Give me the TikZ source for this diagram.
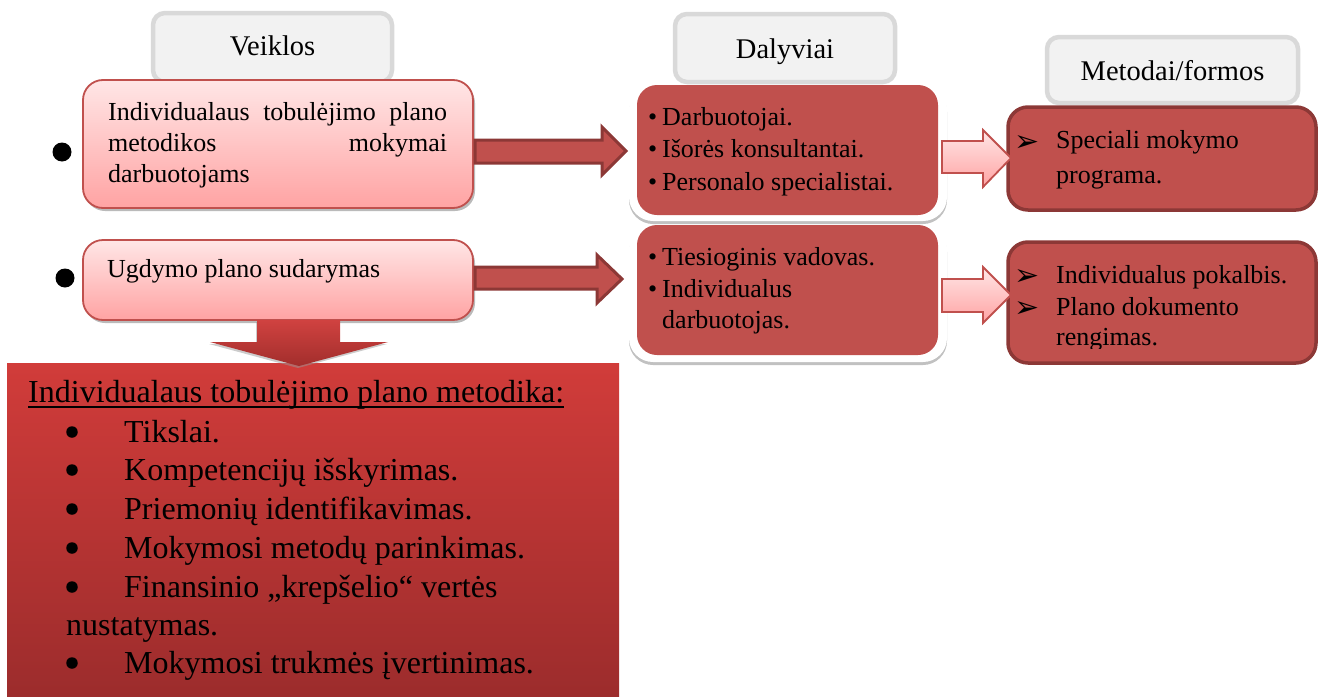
\documentclass[tikz,border=0pt]{standalone}
\usepackage{fontspec}
\setmainfont{Liberation Serif}
\newfontfamily\dejavu{DejaVu Sans}
\usetikzlibrary{shadows}
\definecolor{hdrfill}{HTML}{F2F2F2}
\definecolor{hdrborder}{HTML}{D9D9D9}
\definecolor{redfill}{HTML}{C0504D}
\definecolor{darkred}{HTML}{8C3836}
\definecolor{pinktop}{HTML}{FFE6E6}
\definecolor{pinkbot}{HTML}{FFA3A3}
\definecolor{bigtop}{HTML}{D13C3A}
\definecolor{bigbot}{HTML}{9C2C2C}
\definecolor{downtop}{HTML}{D04240}
\definecolor{downbot}{HTML}{A22E2C}
\begin{document}
\begin{tikzpicture}[x=1pt,y=-1pt,
  hdr/.style={draw=hdrborder, line width=4.5pt, fill=hdrfill, rounded corners=12pt, inner sep=0pt, outer sep=0pt},
  pinkbox/.style={draw=redfill, line width=1.8pt, top color=pinktop, bottom color=pinkbot, rounded corners=20pt, inner sep=0pt,
     drop shadow={shadow xshift=2pt, shadow yshift=-3pt, fill=black!45, opacity=0.6}},
  outerbox/.style={fill=white, rounded corners=24pt, inner sep=0pt,
     drop shadow={shadow xshift=0pt, shadow yshift=-3pt, fill=black!35, opacity=0.7}},
  redbox/.style={fill=redfill, rounded corners=20pt, inner sep=0pt},
  metbox/.style={fill=redfill, draw=darkred, line width=3.5pt, rounded corners=20pt, inner sep=0pt},
  bigbox/.style={top color=bigtop, bottom color=bigbot, inner sep=0pt},
  darrow/.style={fill=redfill, draw=darkred, line width=3pt, line join=miter},
  parrow/.style={top color=pinktop, bottom color=pinkbot, draw=redfill, line width=1.8pt, line join=miter},
  downarrow/.style={top color=downtop, bottom color=downbot,
     drop shadow={shadow xshift=-1pt, shadow yshift=-2pt, fill=black!40, opacity=0.5}},
  dot/.style={circle, fill=black, minimum size=19pt, inner sep=0pt},
  smalldot/.style={circle, fill=black, minimum size=11.5pt, inner sep=0pt},
  hdrtext/.style={font=\fontsize{28.5}{32}\selectfont, inner sep=0pt, anchor=base},
  txt/.style={font=\fontsize{26}{31}\selectfont, inner sep=0pt, anchor=base west},
  bigtxt/.style={font=\fontsize{32}{38}\selectfont, inner sep=0pt, anchor=base west},
  arrtxt/.style={font=\dejavu\fontsize{30}{32}\selectfont, inner sep=0pt, anchor=center}
]
\useasboundingbox (0,0) rectangle (1319,696);

% ---------- headers ----------
\node[hdr, minimum width=239pt, minimum height=69pt] (hV) at (272.5,47.5) {};
\node[hdr, minimum width=220pt, minimum height=68pt] (hD) at (785,48) {};
\node[hdr, minimum width=251pt, minimum height=66pt] (hM) at (1172.5,70) {};
\node[hdrtext] (tV) at (272.5,55) {Veiklos};
\node[hdrtext] (tD) at (785,58) {Dalyviai};
\node[hdrtext] (tM) at (1172.5,80) {Metodai/formos};

% ---------- big box ----------
\node[bigbox, minimum width=612pt, minimum height=333pt] (big) at (313,529.5) {};

% ---------- Veiklos boxes ----------
\node[pinkbox, minimum width=390pt, minimum height=128pt] (b1) at (278,144) {};
\node[pinkbox, minimum width=390pt, minimum height=80pt] (b2) at (278,280) {};
\node[dot] (d1) at (62,152) {};
\node[dot] (d2) at (65,278) {};
\node[txt] (b1l1) at (108,120) {\makebox[339pt][s]{Individualaus tobulėjimo plano}};
\node[txt] (b1l2) at (108,151) {\makebox[339pt][s]{metodikos mokymai}};
\node[txt] (b1l3) at (108,182) {darbuotojams};
\node[txt] (b2l1) at (107,277) {Ugdymo plano sudarymas};

\path[downarrow] (257,320) -- (340,320) -- (340,342) -- (388,342) -- (299,366) -- (210,342) -- (257,342) -- cycle;

% ---------- Dalyviai ----------
\node[outerbox, minimum width=318pt, minimum height=136pt] (o1) at (788,153) {};
\node[redbox, minimum width=301pt, minimum height=130pt] (r1) at (787.5,150) {};
\node[outerbox, minimum width=318pt, minimum height=137pt] (o2) at (788,293.5) {};
\node[redbox, minimum width=301pt, minimum height=130pt] (r2) at (787.5,290) {};
\node[txt] (r1l1) at (648,125) {\makebox[14pt][l]{•}Darbuotojai.};
\node[txt] (r1l2) at (648,157) {\makebox[14pt][l]{•}Išorės konsultantai.};
\node[txt] (r1l3) at (648,190) {\makebox[14pt][l]{•}Personalo specialistai.};
\node[txt] (r2l1) at (648,265) {\makebox[14pt][l]{•}Tiesioginis vadovas.};
\node[txt] (r2l2) at (648,297) {\makebox[14pt][l]{•}Individualus};
\node[txt] (r2l3) at (662,328) {darbuotojas.};

% ---------- arrows Veiklos -> Dalyviai ----------
\path[darrow] (475,140) -- (602,140) -- (602,127) -- (626,151) -- (602,175) -- (602,163) -- (475,163) -- cycle;
\path[darrow] (475,267) -- (597,267) -- (597,255) -- (622,279) -- (597,303) -- (597,289) -- (475,289) -- cycle;

% ---------- Metodai ----------
\node[metbox, minimum width=308pt, minimum height=103pt] (m1) at (1162,158.5) {};
\node[metbox, minimum width=308pt, minimum height=121pt] (m2) at (1162,302.5) {};
\node[arrtxt] (m1a) at (1027,143.5) {➢};
\node[txt] (m1l1) at (1056,148) {Speciali mokymo};
\node[txt] (m1l2) at (1056,183) {programa.};
\node[arrtxt] (m2a) at (1027,277) {➢};
\node[arrtxt] (m2b) at (1027,309) {➢};
\node[txt] (m2l1) at (1056,283) {Individualus pokalbis.};
\node[txt] (m2l2) at (1056,315) {Plano dokumento};
\begin{scope}
  \clip (1008,322) rectangle (1316,348);
  \node[txt] (m2l3) at (1056,345) {rengimas.};
\end{scope}

% ---------- arrows Dalyviai -> Metodai ----------
\path[parrow] (942,141) -- (983,141) -- (983,130) -- (1011,158) -- (983,187) -- (983,173) -- (942,173) -- cycle;
\path[parrow] (942,279) -- (983,279) -- (983,267) -- (1011,295) -- (983,323) -- (983,312) -- (942,312) -- cycle;

% ---------- big box text ----------
\node[bigtxt] (bh) at (28,402) {Individualaus tobulėjimo plano metodika:};
\draw[line width=1.5pt] ([yshift=-5pt]bh.base west) -- ([yshift=-5pt]bh.base east);
\node[smalldot] (k1) at (72,432) {};
\node[bigtxt] (i1) at (124,442) {Tikslai.};
\node[smalldot] (k2) at (72,470) {};
\node[bigtxt] (i2) at (124,480) {Kompetencijų išskyrimas.};
\node[smalldot] (k3) at (72,509) {};
\node[bigtxt] (i3) at (124,519) {Priemonių identifikavimas.};
\node[smalldot] (k4) at (72,548) {};
\node[bigtxt] (i4) at (124,558) {Mokymosi metodų parinkimas.};
\node[smalldot] (k5) at (72,587) {};
\node[bigtxt] (i5) at (124,597) {Finansinio „krepšelio“ vertės};
\node[bigtxt] (i5b) at (66,635) {nustatymas.};
\node[smalldot] (k6) at (72,663) {};
\node[bigtxt] (i6) at (124,673) {Mokymosi trukmės įvertinimas.};
\end{tikzpicture}
\end{document}
